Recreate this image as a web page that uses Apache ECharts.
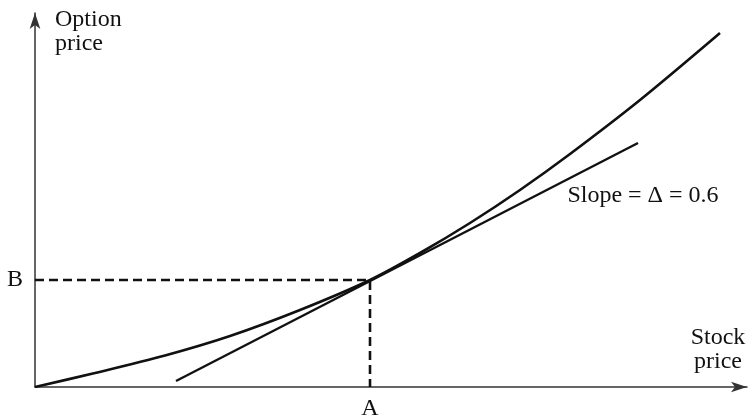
<!DOCTYPE html>
<html>
<head>
<meta charset="utf-8">
<script src="https://cdn.jsdelivr.net/npm/echarts@6/dist/echarts.min.js"></script>
<style>
html,body{margin:0;padding:0;background:#fff;}
#chart{width:755px;height:420px;}
</style>
</head>
<body>
<div id="chart"></div>
<script>
// Option price curve (stock price, option price)
var curveX = [0, 60, 130, 195, 265, 335, 385, 435, 485, 535, 605, 685];
var curveY = [0, 14, 31.5, 51, 77, 107, 134, 164, 197, 233, 287, 354];
// Tangent line end points
var tangentX = [141, 603];
var tangentY = [6, 244];
// Tangency point A (stock price) and B (option price)
var pointA = 335;
var pointB = 107;
var labelA = 'A';
var labelB = 'B';
var slopeLabel = 'Slope = Δ = 0.6';
var yTitle = 'Option\nprice';
var xTitle = 'Stock\nprice';
var xMax = 712;
var yMax = 374;

var serif = '"Liberation Serif", "DejaVu Serif", serif';
var ink = '#111';

var curveData = curveX.map(function (x, i) { return [x, curveY[i]]; });
var tangentData = tangentX.map(function (x, i) { return [x, tangentY[i]]; });

var chart = echarts.init(document.getElementById('chart'), null, {renderer: 'canvas'});
chart.setOption({
  animation: false,
  backgroundColor: '#fff',
  grid: {left: 35, right: 8, top: 13, bottom: 33},
  xAxis: {
    type: 'value', min: 0, max: xMax,
    splitLine: {show: false}, axisTick: {show: false}, axisLabel: {show: false},
    axisLine: {show: true, symbol: ['none', 'arrow'], symbolSize: [8, 16], symbolOffset: [0, 0],
      lineStyle: {color: '#333', width: 1.5}}
  },
  yAxis: {
    type: 'value', min: 0, max: yMax,
    splitLine: {show: false}, axisTick: {show: false}, axisLabel: {show: false},
    axisLine: {show: true, symbol: ['none', 'arrow'], symbolSize: [8, 16], symbolOffset: [0, 0],
      lineStyle: {color: '#333', width: 1.5}}
  },
  series: [
    {
      type: 'line', data: curveData, smooth: 0.3, showSymbol: false,
      lineStyle: {color: ink, width: 2.6}
    },
    {
      type: 'line', data: tangentData, showSymbol: false,
      lineStyle: {color: ink, width: 2.4}
    },
    {
      type: 'line', data: [[0, pointB], [pointA, pointB], [pointA, 0]], showSymbol: false,
      lineStyle: {color: ink, width: 2.6, type: [9, 5]}
    },
    {
      type: 'scatter', symbolSize: 0, silent: true,
      itemStyle: {opacity: 1},
      data: [
        {value: [pointA, 0], label: {formatter: labelA, position: [0, 22]}},
        {value: [0, pointB], label: {formatter: labelB, position: [-20, 0]}},
        {value: [tangentX[1], tangentY[1]], label: {formatter: slopeLabel, position: [5, 53]}}
      ],
      label: {show: true, color: ink, opacity: 1, fontFamily: serif, fontSize: 24, align: 'center', verticalAlign: 'middle'}
    }
  ],
  graphic: [
    {type: 'text', style: {x: 55, y: 8, text: yTitle, font: '24px ' + serif, fill: ink, lineHeight: 24, align: 'left', verticalAlign: 'top'}},
    {type: 'text', style: {x: 718, y: 326, text: xTitle, font: '24px ' + serif, fill: ink, lineHeight: 24, align: 'center', verticalAlign: 'top'}}
  ]
});
</script>
</body>
</html>
